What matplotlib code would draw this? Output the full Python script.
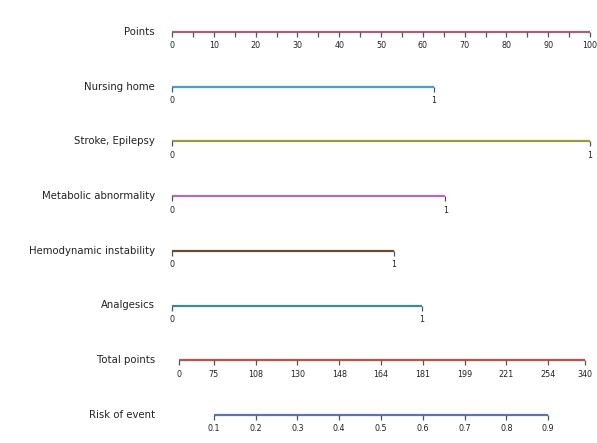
import numpy as np
import matplotlib
matplotlib.use('Agg')
import matplotlib.pyplot as plt

# nomogram rows (top to bottom)
row_labels = ['Points', 'Nursing home', 'Stroke, Epilepsy', 'Metabolic abnormality',
              'Hemodynamic instability', 'Analgesics', 'Total points', 'Risk of event']
row_colors = ['#a6607e', '#4a9ed6', '#9a9c3c', '#b26ac8', '#6e4a2c', '#3f8c8c',
              '#c0524a', '#5b74b4']

# points scale
points_ticks = np.arange(0, 101, 5)
points_labels = np.arange(0, 101, 10)

# binary predictors: points at value 1 (value 0 -> 0 points)
predictor_points = [62.7, 100.0, 65.4, 53.0, 59.8]

# total points axis: label and position on points scale
total_labels = [0, 75, 108, 130, 148, 164, 181, 199, 221, 254, 340]
total_pos = [1.6, 10, 20, 30, 40, 50, 60, 70, 80, 90, 98.8]

# risk axis
risk_values = [0.1, 0.2, 0.3, 0.4, 0.5, 0.6, 0.7, 0.8, 0.9]
risk_pos = [v * 100 for v in risk_values]

W, H = 597, 443
fig = plt.figure(figsize=(W / 100, H / 100), dpi=100)
ax = fig.add_axes([0, 0, 1, 1])
px = 4.18          # pixels per point unit
x0 = 172           # pixel of 0 points
y0, dy = 32, 54.7  # first row pixel, row spacing
ax.set_xlim(-x0 / px, (W - x0) / px)
ax.set_ylim((H - y0) / dy, -y0 / dy)
ax.axis('off')

tick_len = 5 / dy
lab_off = 14 / dy
tick_col = '#4d5560'
lab_kw = dict(ha='right', va='center', fontsize=7.3, color='#222222')
num_kw = dict(ha='center', va='center', fontsize=5.8, color='#222222')
label_x = (155 - x0) / px


def draw_row(i, xs, ticks, labels):
    ax.plot([min(xs), max(xs)], [i, i], color=row_colors[i], lw=1.6,
            solid_capstyle='butt', zorder=2)
    ax.vlines(ticks, i, i + tick_len, color=tick_col, lw=0.9, zorder=3)
    for x, t in labels:
        ax.text(x, i + lab_off, str(t), **num_kw)
    ax.text(label_x, i, row_labels[i], **lab_kw)


draw_row(0, [0, 100], points_ticks, [(p, p) for p in points_labels])
for k, pts in enumerate(predictor_points):
    draw_row(k + 1, [0, pts], [0, pts], [(0, 0), (pts, 1)])
draw_row(6, total_pos, total_pos, list(zip(total_pos, total_labels)))
draw_row(7, risk_pos, risk_pos, list(zip(risk_pos, risk_values)))

fig.savefig('out.png', dpi=100, facecolor='white')
